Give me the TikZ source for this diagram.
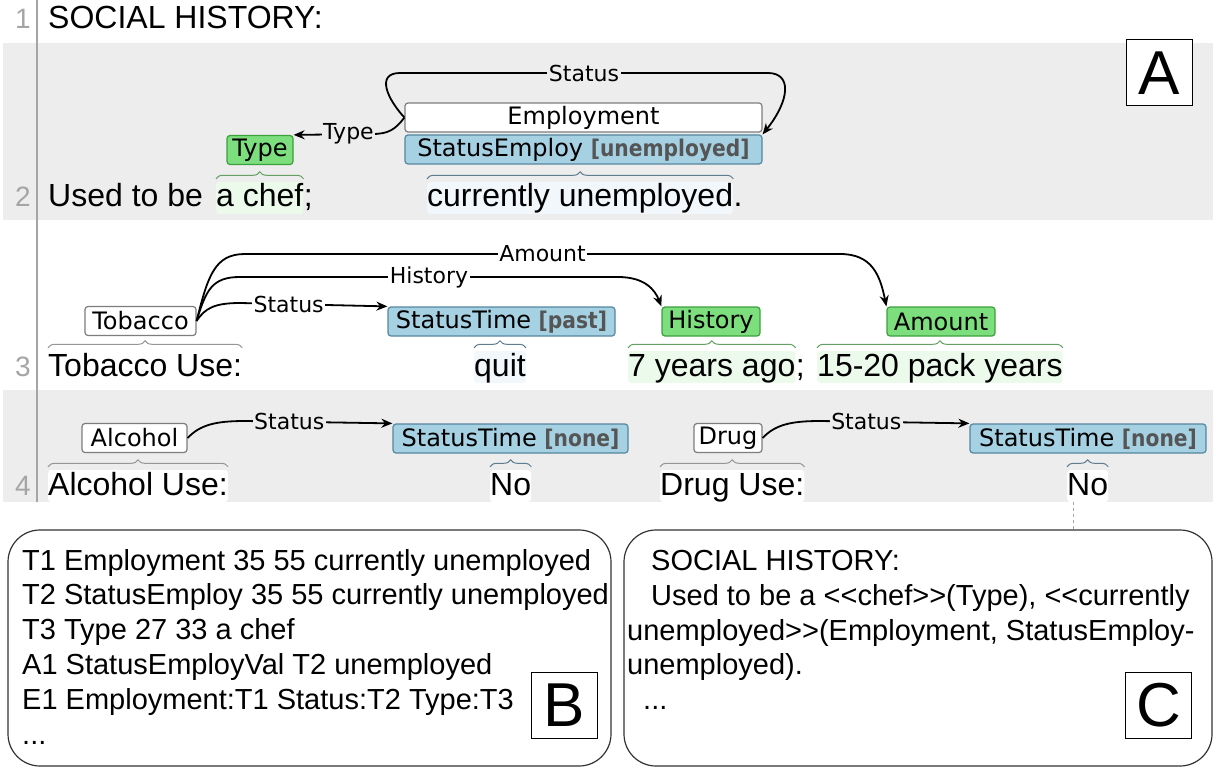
\documentclass[tikz,border=0pt]{standalone}
\usepackage{fontspec}
\setmainfont{Liberation Sans}
\newfontfamily\rawfam[Ligatures=TeXOff]{Liberation Sans}
\newfontfamily\lblfam{DejaVu Sans}
\newfontfamily\attrfam[FakeStretch=0.88]{DejaVu Sans}
\usetikzlibrary{arrows.meta,decorations.pathreplacing}

\definecolor{bandgray}{RGB}{237,237,237}
\definecolor{linegray}{RGB}{165,165,165}
\definecolor{plainborder}{RGB}{125,125,125}
\definecolor{bluefill}{RGB}{165,209,227}
\definecolor{blueborder}{RGB}{85,135,160}
\definecolor{greenfill}{RGB}{125,222,125}
\definecolor{greenborder}{RGB}{60,160,60}
\definecolor{greenlight}{RGB}{236,250,236}
\definecolor{bluelight}{RGB}{241,247,251}
\definecolor{greenbrace}{RGB}{100,160,100}
\definecolor{bluebrace}{RGB}{95,125,145}
\definecolor{graybrace}{RGB}{150,150,150}
\definecolor{attrgray}{RGB}{85,85,85}

\newcommand{\rowfont}{\fontsize{32}{38}\selectfont}
\newcommand{\lblfont}{\lblfam\fontsize{22}{26}\selectfont}
\newcommand{\spanfont}{\lblfam\fontsize{24}{28}\selectfont}
\newcommand{\panelfont}{\fontsize{29}{35}\selectfont}
\newcommand{\attrval}[1]{{\attrfam\bfseries\fontsize{23}{26}\selectfont\color{attrgray}#1}}

\begin{document}
\begin{tikzpicture}[x=1pt, y=-1pt,
    rowtext/.style={font=\rowfont, anchor=base west, inner sep=0pt, text height=25pt, text depth=7pt, rounded corners=3pt},
    lineno/.style={font=\fontsize{28}{30}\selectfont, text=linegray, anchor=base east, inner sep=0pt},
    span/.style={font=\spanfont, inner sep=0pt, rounded corners=3pt, line width=1.2pt, minimum height=29pt, draw=plainborder, fill=white},
    bluespan/.style={span, fill=bluefill, draw=blueborder},
    greenspan/.style={span, fill=greenfill, draw=greenborder},
    arclabel/.style={font=\lblfont, fill=bandgray, inner sep=1.5pt},
    rel/.style={line width=1.8pt, -{Stealth[length=11pt,width=9pt]}},
    brc/.style={decorate, decoration={brace, amplitude=7pt, raise=3pt}, line width=1pt},
    panel/.style={draw=black!80, line width=1.2pt, rounded corners=32pt, inner sep=0pt},
    panelline/.style={font=\panelfont, anchor=base west, inner sep=0pt},
    letterbox/.style={draw=black, fill=white, line width=1pt, minimum size=66pt, inner sep=0pt, font=\fontsize{62}{62}\selectfont}]
    \useasboundingbox (0,0) rectangle (1216,770);
    \fill[bandgray] (3,43) rectangle (1213,220);
    \fill[bandgray] (3,390) rectangle (1213,502);
    \draw[linegray, line width=2pt] (37,0) -- (37,502);

    \node[lineno] (ln1) at (31,29) {1};
    \node[lineno] (ln2) at (31,207) {2};
    \node[lineno] (ln3) at (31,376) {3};
    \node[lineno] (ln4) at (31,495) {4};

    \node[rowtext] (title) at (48,29) {SOCIAL HISTORY:};
    \node[rowtext] (used) at (48,207) {Used to be};
    \node[rowtext, fill=greenlight] (chef) at (216,207) {a chef};
    \node[rowtext] (semi1) at (chef.base east) {;};
    \node[rowtext, fill=bluelight] (unemp) at (427,207) {currently unemployed};
    \node[rowtext] (dot1) at (unemp.base east) {.};

    \node[rowtext, fill=white] (tobuse) at (48,376) {Tobacco Use:};
    \node[rowtext, fill=bluelight] (quit) at (474,376) {quit};
    \node[rowtext, fill=greenlight] (yrs) at (628,376) {7 years ago};
    \node[rowtext] (semi2) at (yrs.base east) {;};
    \node[rowtext, fill=greenlight] (pack) at (817,376) {15-20 pack years};

    \node[rowtext, fill=white] (alcuse) at (48,495) {Alcohol Use:};
    \node[rowtext, fill=white] (no1) at (490,495) {No};
    \node[rowtext, fill=white] (druguse) at (660,495) {Drug Use:};
    \node[rowtext, fill=white] (no2) at (1067,495) {No};

    \draw[brc, draw=greenbrace] (chef.north west) -- (chef.north east);
    \draw[brc, draw=bluebrace] (unemp.north west) -- (unemp.north east);
    \draw[brc, draw=graybrace] (tobuse.north west) -- (tobuse.north east);
    \draw[brc, draw=bluebrace] (quit.north west) -- (quit.north east);
    \draw[brc, draw=greenbrace] (yrs.north west) -- (yrs.north east);
    \draw[brc, draw=greenbrace] (pack.north west) -- (pack.north east);
    \draw[brc, draw=graybrace] (alcuse.north west) -- (alcuse.north east);
    \draw[brc, draw=bluebrace] (no1.north west) -- (no1.north east);
    \draw[brc, draw=graybrace] (druguse.north west) -- (druguse.north east);
    \draw[brc, draw=bluebrace] (no2.north west) -- (no2.north east);

    \node[greenspan, minimum width=66pt] (type) at (260,150) {Type};
    \node[span, minimum width=357pt] (emp) at (583.5,117.5) {Employment};
    \node[bluespan, minimum width=357pt] (statemp) at (583.5,149.5) {StatusEmploy \attrval{[unemployed]}};

    \node[span, minimum width=111pt] (tob) at (140.5,321) {Tobacco};
    \node[bluespan, minimum width=227pt] (past) at (501.5,321.5) {StatusTime \attrval{[past]}};
    \node[greenspan, minimum width=98pt] (hist) at (711,321.5) {History};
    \node[greenspan, minimum width=108pt] (amt) at (941,321.5) {Amount};

    \node[span, minimum width=105pt] (alc) at (134.5,438) {Alcohol};
    \node[bluespan, minimum width=235pt] (none1) at (510.5,438.5) {StatusTime \attrval{[none]}};
    \node[span, minimum width=68pt] (drug) at (728,438) {Drug};
    \node[bluespan, minimum width=236pt] (none2) at (1088,438.5) {StatusTime \attrval{[none]}};

    \draw[rel] (emp.west) .. controls (388,100) and (375,73) .. (400,73) -- node[arclabel]{Status} (768,73) .. controls (792,73) and (790,100) .. (statemp.north east);
    \draw[rel] (emp.west) .. controls (395,130) and (388,134) .. (372,134) -- node[arclabel, pos=0.3]{Type} (type.north east);

    \draw[rel] (tob.east) .. controls (208,275) and (215,254) .. (245,254) -- node[arclabel, fill=white]{Amount} (840,254) .. controls (872,254) and (880,275) .. (amt.north west);
    \draw[rel] (tob.east) .. controls (206,290) and (212,277) .. (240,277) -- node[arclabel, fill=white]{History} (618,277) .. controls (645,277) and (655,290) .. (hist.north west);
    \draw[rel] (tob.east) .. controls (205,308) and (215,303) .. (240,303) -- node[arclabel, fill=white, pos=0.33]{Status} (past.north west);

    \draw[rel] (alc.east) .. controls (200,425) and (215,421) .. (245,421) -- node[arclabel, pos=0.3]{Status} (none1.north west);
    \draw[rel] (drug.east) .. controls (775,425) and (790,421) .. (820,421) -- node[arclabel, pos=0.31]{Status} (none2.north west);

    \node[panel, minimum width=603pt, minimum height=236pt] (panelB) at (309.5,648) {};
    \node[panel, minimum width=588pt, minimum height=236pt] (panelC) at (918,648) {};
    \draw[linegray, dashed, line width=0.6pt] ([xshift=6pt]no2.south west) -- ([xshift=6pt]no2.south west |- panelC.north);

    \foreach \txt [count=\i] in {T1 Employment 35 55 currently unemployed, T2 StatusEmploy 35 55 currently unemployed, T3 Type 27 33 a chef, A1 StatusEmployVal T2 unemployed, E1 Employment:T1 Status:T2 Type:T3}
        \node[panelline] (b\i) at (22,{570+34.8*(\i-1)}) {\txt};
    \node[panelline] (b6) at (22,744) {...};

    \node[panelline, font=\rawfam\panelfont] (c1) at (651,570) {SOCIAL HISTORY:};
    \node[panelline, font=\rawfam\panelfont] (c2) at (651,605) {Used to be a <<chef>>(Type), <<currently};
    \node[panelline, font=\rawfam\panelfont] (c3) at (627,640) {unemployed>>(Employment, StatusEmploy-};
    \node[panelline, font=\rawfam\panelfont] (c4) at (627,674.5) {unemployed).};
    \node[panelline] (c5) at (643,709) {...};

    \node[letterbox] (letA) at (1159,73) {A};
    \node[letterbox] (letB) at (564,705) {B};
    \node[letterbox] (letC) at (1158.5,705) {C};
\end{tikzpicture}
\end{document}
